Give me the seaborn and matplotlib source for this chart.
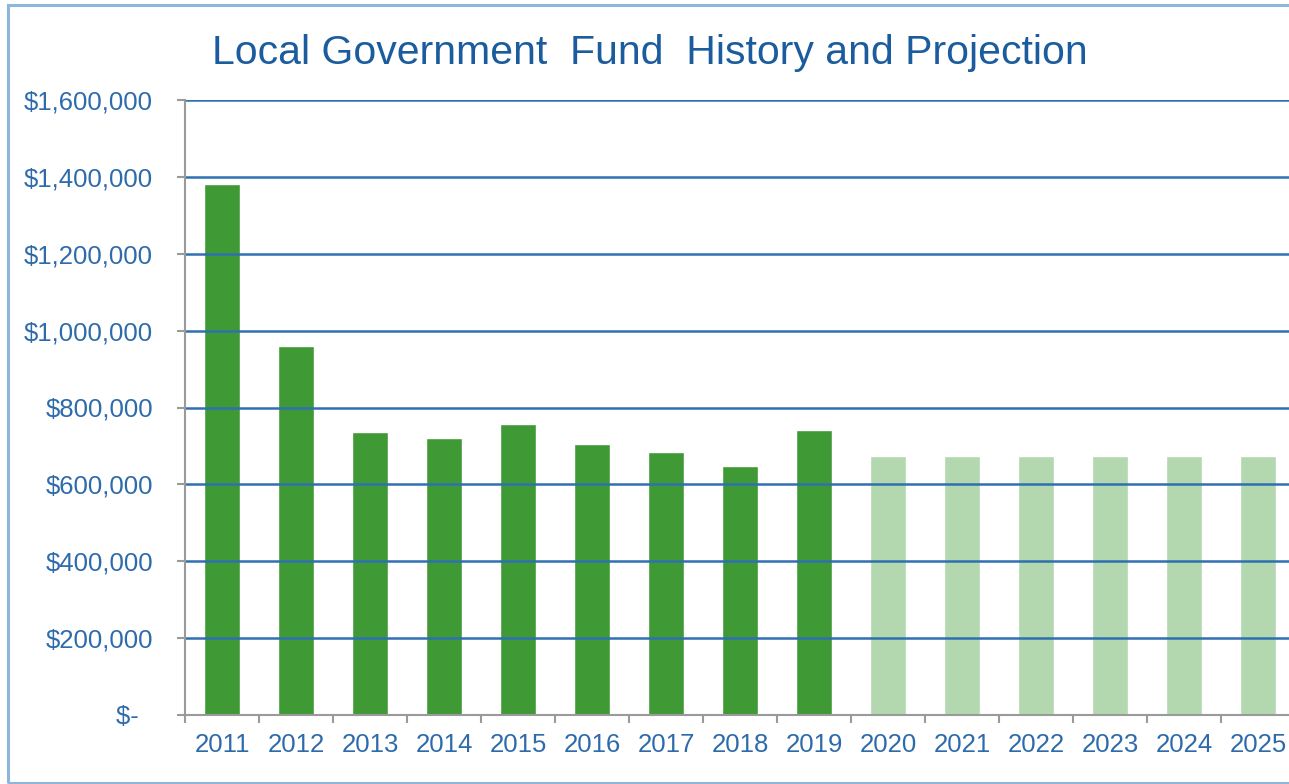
import matplotlib
matplotlib.use("Agg")
import matplotlib.pyplot as plt
import seaborn as sns
from matplotlib.patches import Rectangle
from matplotlib.ticker import FuncFormatter

# values
years = ["2011", "2012", "2013", "2014", "2015", "2016", "2017", "2018",
         "2019", "2020", "2021", "2022", "2023", "2024", "2025"]
amounts = [1382000, 961000, 736000, 720000, 757000, 705000, 684000, 648000,
           741000, 673000, 673000, 673000, 673000, 673000, 673000]
kind = ["History"] * 9 + ["Projection"] * 6

colors = {"History": "#3F9A36", "Projection": "#B3D8AF"}
blue_text = "#2E6BAA"
grid_blue = "#2F70B0"

sns.set_style("white")
plt.rcParams['font.family'] = ['Liberation Sans', 'DejaVu Sans']

fig = plt.figure(figsize=(12.89, 7.84), dpi=100)
W, H = 1289, 784

# outer chart frame (right side runs off the picture)
fig.patches.append(Rectangle((8 / W, 1 / H), 1.05, 778 / H,
                             transform=fig.transFigure, fill=False,
                             edgecolor="#8DB6DA", lw=2.2, clip_on=False))

ax = fig.add_axes([185 / W, (H - 715) / H, 1110 / W, 615 / H])
sns.barplot(x=years, y=amounts, hue=kind, palette=colors, dodge=False,
            width=0.48, legend=False, ax=ax, saturation=1)

ax.set_ylim(0, 1600000)
ax.set_xlim(-0.5, len(years) - 0.5)
ax.set_yticks(range(0, 1600001, 200000))
ax.yaxis.set_major_formatter(FuncFormatter(
    lambda v, p: "$-  " if v == 0 else f"${v:,.0f}"))

# gridlines drawn over the bars, like the original
ax.set_axisbelow(False)
ax.yaxis.grid(True, color=grid_blue, lw=1.8)
for b in ax.patches:
    b.set_zorder(1)

for side in ["top", "right"]:
    ax.spines[side].set_visible(False)
for side in ["left", "bottom"]:
    ax.spines[side].set_color("#9A9A9A")
    ax.spines[side].set_linewidth(1.5)
    ax.spines[side].set_zorder(3)

# ticks sit between categories, labels centred under bars
ax.set_xticks([i - 0.5 for i in range(len(years) + 1)], minor=False)
ax.set_xticklabels([])
ax.set_xticks(range(len(years)), minor=True)
ax.set_xticklabels(years, minor=True)
ax.tick_params(axis="x", which="major", direction="out", length=6,
               width=1.5, color="#9A9A9A", bottom=True)
ax.tick_params(axis="x", which="minor", length=0, pad=13,
               labelsize=18.5, labelcolor=blue_text)
ax.tick_params(axis="y", direction="out", length=6, width=1.5,
               color="#9A9A9A", left=True, pad=17,
               labelsize=18.5, labelcolor=blue_text)
ax.set_xlabel("")
ax.set_ylabel("")

fig.text(650 / W, 1 - 53 / H, "Local Government  Fund  History and Projection",
         ha="center", va="center", fontsize=29.5, color="#1B5C9E")

fig.savefig("out.png", dpi=100)
